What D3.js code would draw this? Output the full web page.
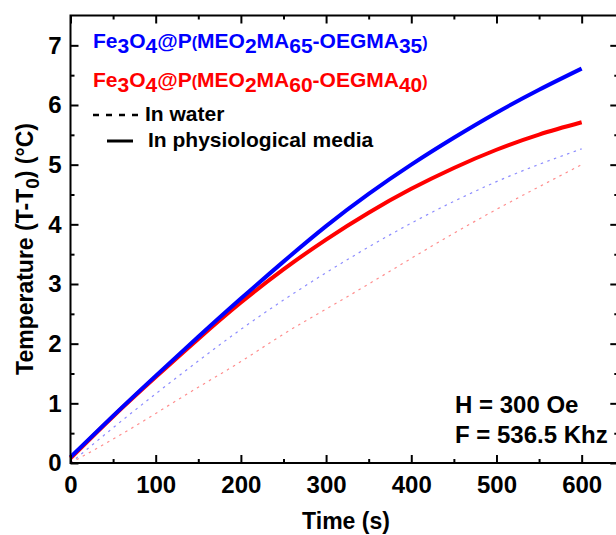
<!DOCTYPE html>
<html><head><meta charset="utf-8">
<script src="https://cdn.jsdelivr.net/npm/d3@7/dist/d3.min.js"></script>
<style>body{margin:0;background:#fff}svg{display:block}text{font-family:"Liberation Sans",Arial,sans-serif;font-weight:bold}</style>
</head><body><svg id="c" width="616" height="535"></svg>
<script>
const time = [0,50,100,150,200,250,300,350,400,450,500,550,600];
const blueMedia = [0.1,0.79,1.46,2.115,2.755,3.375,3.97,4.51,5.0,5.45,5.87,6.255,6.61];
const redMedia  = [0.08,0.78,1.44,2.08,2.69,3.245,3.745,4.195,4.595,4.945,5.25,5.505,5.71];
const blueWater = [0.0,0.59,1.16,1.71,2.24,2.73,3.19,3.62,4.02,4.385,4.715,5.005,5.265];
const redWater  = [0.0,0.4,0.83,1.27,1.7,2.16,2.58,3.0,3.43,3.85,4.25,4.63,5.0];
const xTicks = [0,100,200,300,400,500,600];
const yTicks = [0,1,2,3,4,5,6,7];

const svg = d3.select('#c');
const x = d3.scaleLinear().domain([0,643]).range([70.5,618.3]);
const y = d3.scaleLinear().domain([0,7.5]).range([463,15.5]);

const line = d3.line().x(d=>x(d[0])).y(d=>y(d[1])).curve(d3.curveNatural);
function series(vals){return time.map((t,i)=>[t,vals[i]]);}

// water (dotted, faint)
[[blueWater,'#0000ff'],[redWater,'#ff0000']].forEach(([v,c])=>{
  svg.append('path').attr('d',line(series(v))).attr('fill','none')
    .attr('stroke',c).attr('stroke-width',1.2).attr('stroke-opacity',0.45)
    .attr('stroke-dasharray','2.5,4.5');
});
// media (solid)
[[redMedia,'#ff0000'],[blueMedia,'#0000ff']].forEach(([v,c])=>{
  svg.append('path').attr('d',line(series(v))).attr('fill','none')
    .attr('stroke',c).attr('stroke-width',4);
});

// axes frame
const g = svg.append('g');
const minorX = d3.range(50,643,100);
const minorY = d3.range(0.5,7.5,1);
function ticksAxis(axisGen, tr){
  const a = g.append('g').attr('transform',tr).call(axisGen);
  a.selectAll('path').remove();
  a.selectAll('line').attr('stroke','#000').attr('stroke-width',2);
  return a;
}
// bottom
const bx = ticksAxis(d3.axisBottom(x).tickValues(xTicks).tickSizeInner(-8).tickSizeOuter(0).tickPadding(13), `translate(0,${y(0)})`);
bx.selectAll('text').attr('font-size',24).attr('fill','#000');
ticksAxis(d3.axisBottom(x).tickValues(minorX).tickSize(-4).tickFormat(''), `translate(0,${y(0)})`);
// top
ticksAxis(d3.axisTop(x).tickValues(xTicks).tickSize(-8).tickFormat(''), `translate(0,${y(7.5)})`);
ticksAxis(d3.axisTop(x).tickValues(minorX).tickSize(-4).tickFormat(''), `translate(0,${y(7.5)})`);
// left
const ly = ticksAxis(d3.axisLeft(y).tickValues(yTicks).tickSizeInner(-8).tickSizeOuter(0).tickPadding(9), `translate(${x(0)},0)`);
ly.selectAll('text').attr('font-size',24).attr('fill','#000');
ticksAxis(d3.axisLeft(y).tickValues(minorY).tickSize(-4).tickFormat(''), `translate(${x(0)},0)`);
// right
ticksAxis(d3.axisRight(y).tickValues(yTicks).tickSize(-8).tickFormat(''), `translate(${x(643)},0)`);
ticksAxis(d3.axisRight(y).tickValues(minorY).tickSize(-4).tickFormat(''), `translate(${x(643)},0)`);
g.append('rect').attr('x',x(0)).attr('y',y(7.5)).attr('width',x(643)-x(0)).attr('height',y(0)-y(7.5))
  .attr('fill','none').attr('stroke','#000').attr('stroke-width',2);

// axis titles
svg.append('text').attr('x',346).attr('y',529).attr('text-anchor','middle').attr('font-size',23).text('Time (s)');
const yl = svg.append('text').attr('transform','translate(33,249) rotate(-90)').attr('text-anchor','middle').attr('font-size',23);
yl.append('tspan').text('Temperature (T-T');
yl.append('tspan').attr('dy',6).attr('font-size',19).text('0');
yl.append('tspan').attr('dy',-6).text(') (°C)');

// legend
function formula(yb, color, a, b){
  const t = svg.append('text').attr('x',93).attr('y',yb).attr('font-size',21).attr('fill',color);
  const parts = [['Fe',0],['3',1],['O',0],['4',1],['@P',0],['(',2],['MEO',0],['2',1],['MA',0],[a,1],['-OEGMA',0],[b,1],[')',2]];
  let cur = 0;
  parts.forEach(([s,k])=>{
    const off = k===1?5:0;
    const ts = t.append('tspan').attr('dy',off-cur).text(s);
    if(k===2) ts.attr('font-size',16);
    cur = off;
  });
}
formula(48,'#0000ff','65','35');
formula(87,'#ff0000','60','40');
svg.append('line').attr('x1',93).attr('x2',139).attr('y1',115).attr('y2',115)
  .attr('stroke','#000').attr('stroke-width',2.5).attr('stroke-dasharray','6,7');
svg.append('text').attr('x',145).attr('y',121).attr('font-size',21).text('In water');
svg.append('line').attr('x1',107).attr('x2',133).attr('y1',141).attr('y2',141)
  .attr('stroke','#000').attr('stroke-width',3);
svg.append('text').attr('x',148).attr('y',147).attr('font-size',21).text('In physiological media');

svg.append('text').attr('x',455).attr('y',413).attr('font-size',24).text('H = 300 Oe');
svg.append('text').attr('x',455).attr('y',443).attr('font-size',24).text('F = 536.5 Khz');
</script></body></html>
